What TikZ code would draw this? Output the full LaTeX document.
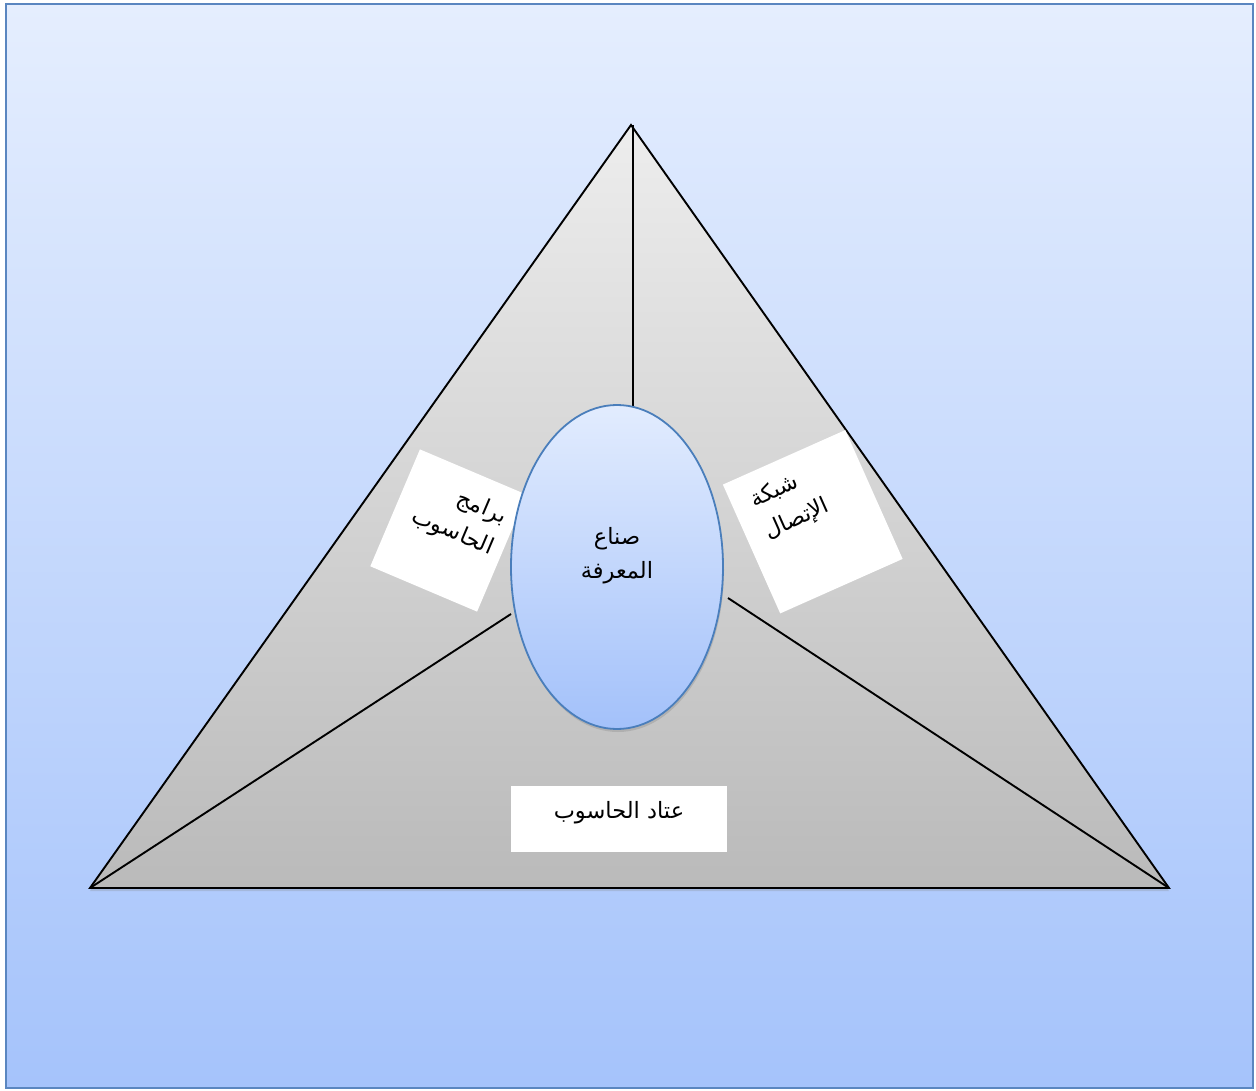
\documentclass[tikz,border=0pt]{standalone}
\usepackage{fontspec}
\setmainfont{Liberation Sans}
\newfontfamily\arabicfont[Script=Arabic]{DejaVu Sans}
\TeXXeTstate=1
\usetikzlibrary{shapes.geometric,shadows}
\definecolor{bgtop}{HTML}{E5EEFE}
\definecolor{bgbot}{HTML}{A5C3FB}
\definecolor{bgedge}{HTML}{5A86C0}
\definecolor{tritop}{HTML}{EDEDED}
\definecolor{tribot}{HTML}{BABABA}
\definecolor{eltop}{HTML}{E2ECFE}
\definecolor{elbot}{HTML}{A3C1FA}
\definecolor{eledge}{HTML}{4A7EBB}
\tikzset{
  wbox/.style={rectangle, fill=white, draw=none, inner sep=0pt},
  artext/.style={font=\arabicfont\fontsize{22.5}{34}\selectfont, inner sep=0pt, text=black},
  link/.style={draw=black, line width=1.9pt},
}
\begin{document}
\begin{tikzpicture}[x=1pt,y=-1pt]
\useasboundingbox (0,0) rectangle (1256,1091);
% background
\shade[top color=bgtop, bottom color=bgbot, draw=bgedge, line width=1.4pt] (6,4) rectangle (1253,1088);
% triangle
\coordinate (apex) at (631,125);
\coordinate (bl) at (90,888);
\coordinate (br) at (1169,888);
\shade[top color=tritop, bottom color=tribot, drop shadow={opacity=0.25, shadow xshift=0pt, shadow yshift=-3pt}]
  (apex) -- (br) -- (bl) -- cycle;
\draw[link, line join=miter] (apex) -- (br) -- (bl) -- cycle;
% inner lines
\coordinate (vtop) at (633,125);
\coordinate (vbot) at (633,407);
\coordinate (lend) at (511,614);
\coordinate (rend) at (728,598);
\draw[link] (vtop) -- (vbot);
\draw[link] (bl) -- (lend);
\draw[link] (br) -- (rend);
% boxes
\node[wbox, minimum width=116pt, minimum height=127pt, rotate=-23] (lbox) at (448.5,530.5) {};
\node[wbox, minimum width=134pt, minimum height=141pt, rotate=24] (rbox) at (812.75,521.75) {};
\node[wbox, minimum width=216pt, minimum height=66pt] (bbox) at (619,819) {};
% ellipse
\node[ellipse, draw=eledge, line width=1.8pt, top color=eltop, bottom color=elbot,
      minimum width=212pt, minimum height=324pt, inner sep=0pt,
      drop shadow={opacity=0.3, shadow xshift=1pt, shadow yshift=-3pt}] (ell) at (617,567) {};
% texts
\node[artext, align=center] (etext) at (617,556) {\beginR صناع\endR\\\beginR المعرفة\endR};
\node[artext] (btext) at (619,813) {\beginR عتاد الحاسوب\endR};
\node[artext, align=right, rotate=-23] (ltext) at (459,517) {\beginR برامج\endR\\\beginR الحاسوب\endR};
\node[artext, align=left, rotate=24] (rtext) at (790,504) {\beginR شبكة\endR\\\beginR الإتصال\endR};
\end{tikzpicture}
\end{document}
